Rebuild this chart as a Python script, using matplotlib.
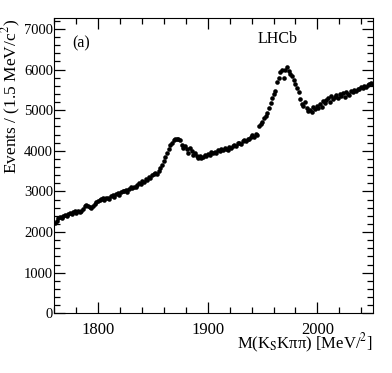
import numpy as np
import matplotlib.pyplot as plt
from matplotlib.ticker import MultipleLocator

# Dados (bins de 1.5 MeV, de 1760 a 2051)
massa_inicio = 1760.0
largura_bin = 1.5

eventos_1760_1800 = [2230, 2280, 2350, 2380, 2340, 2400, 2420, 2390, 2450, 2470, 2440, 2500, 2510, 2480,
                     2530, 2490, 2510, 2560, 2650, 2670, 2640, 2620, 2600, 2630, 2680, 2740, 2760]
eventos_1800_1850 = [2780, 2810, 2840, 2800, 2830, 2850, 2820, 2880, 2900, 2870, 2930, 2950, 2910, 2980,
                     3020, 3000, 3040, 2990, 3060, 3100, 3080, 3120, 3110, 3160, 3200, 3180, 3250, 3230,
                     3300, 3280, 3350, 3320, 3400]
eventos_1850_1875 = [3420, 3460, 3430, 3500, 3580, 3650, 3760, 3850, 3950, 4050, 4130, 4200, 4260, 4290,
                     4280, 4300, 4270]
eventos_1875_1900 = [4150, 4080, 4120, 4050, 3950, 4080, 4000, 3900, 3950, 3860, 3830, 3880, 3820, 3850,
                     3900, 3870, 3930]
eventos_1900_1945 = [3900, 3960, 3940, 3980, 3950, 4010, 3990, 4040, 4020, 4060, 4050, 4030, 4100, 4080,
                     4120, 4150, 4110, 4180, 4200, 4170, 4230, 4260, 4240, 4300, 4280, 4330, 4380, 4350,
                     4420, 4400]
eventos_1945_1975 = [4600, 4650, 4720, 4800, 4850, 4930, 5050, 5170, 5300, 5400, 5460, 5700, 5800, 5950,
                     6000, 5800, 5980, 6070, 5960, 5900]
eventos_1975_2000 = [5850, 5750, 5650, 5550, 5450, 5280, 5150, 5100, 5200, 5050, 4980, 5000, 4950, 5080,
                     5020, 5100, 5060]
eventos_2000_2050 = [5150, 5080, 5220, 5180, 5260, 5300, 5200, 5350, 5280, 5320, 5380, 5300, 5400, 5360,
                     5420, 5330, 5450, 5400, 5380, 5480, 5440, 5500, 5470, 5530, 5520, 5580, 5540, 5600,
                     5570, 5620, 5640, 5660, 5650]

eventos = np.array(eventos_1760_1800 + eventos_1800_1850 + eventos_1850_1875 + eventos_1875_1900
                   + eventos_1900_1945 + eventos_1945_1975 + eventos_1975_2000 + eventos_2000_2050)
massa = massa_inicio + largura_bin * (np.arange(len(eventos)) + 0.5)

plt.rcParams['font.family'] = ['Liberation Serif', 'DejaVu Serif']
plt.rcParams['mathtext.fontset'] = 'stix'

fig = plt.figure(figsize=(3.92, 3.73), dpi=100)
ax = fig.add_axes([0.1385, 0.160, 0.8125, 0.792])

# Pontos de dados
ax.plot(massa, eventos, 'o', color='black', markersize=3.3, markeredgewidth=0)

ax.set_xlim(1760, 2050.5)
ax.set_ylim(0, 7270)

# Ticks no estilo ROOT/LHCb
ax.xaxis.set_major_locator(MultipleLocator(100))
ax.xaxis.set_minor_locator(MultipleLocator(20))
ax.yaxis.set_major_locator(MultipleLocator(1000))
ax.yaxis.set_minor_locator(MultipleLocator(200))
ax.tick_params(which='both', direction='in', top=True, right=True, width=0.9)
ax.tick_params(which='major', length=8)
ax.tick_params(which='minor', length=4.5)
ax.tick_params(axis='x', labelsize=12, pad=6)
ax.tick_params(axis='y', labelsize=10.5, pad=1)

# Nomeando
ax.set_xlabel(r'M(K$_{\rm S}$Kππ) [MeV/$^{2}$]', fontsize=12, loc='right', labelpad=-4)
ax.set_ylabel(r'Events / (1.5 MeV/c$^{2}$)', fontsize=12.5, loc='top')
ax.yaxis.set_label_coords(-0.098, 0.995)
ax.text(0.055, 0.90, '(a)', transform=ax.transAxes, fontsize=11.5)
ax.text(0.70, 0.915, 'LHCb', transform=ax.transAxes, fontsize=11.5, ha='center')

fig.savefig('out.png', dpi=100)
